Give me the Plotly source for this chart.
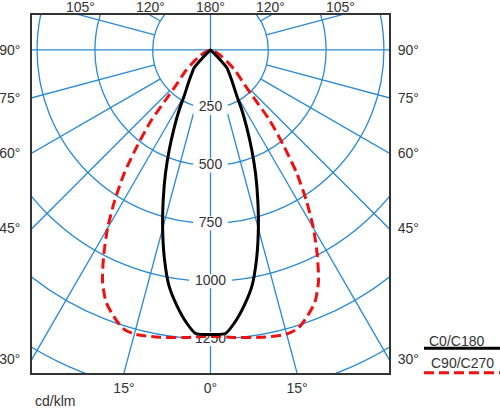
import numpy as np
import plotly.graph_objects as go

# luminous intensity in cd/klm, gamma measured from nadir (0 deg = straight down)
c0_gamma = [0, 3, 5, 7.5, 10, 12.5, 15, 17.5, 20, 22.5, 25, 27.5, 30, 35, 40, 42.5, 45, 47.5, 50]
c0_intensity = [1230, 1228, 1185, 1115, 1035, 922, 800, 680, 570, 465, 372, 295, 225, 160, 120, 105, 45, 12, 0]

c90_gamma = [0, 5, 10, 15, 17.5, 20, 22.5, 25, 27.5, 30, 32.5, 35, 37.5, 40, 42.5, 45, 50, 55, 60, 65, 70, 80, 90]
c90_intensity = [1238, 1248, 1262, 1272, 1262, 1225, 1180, 1105, 1000, 890, 770, 650, 515, 400, 265, 200, 140, 88, 55, 30, 15, 4, 0]

ring_values = [250, 500, 750, 1000, 1250, 1500]
ring_labels = ["250", "500", "750", "1000", "1250"]
spoke_step = 15

bottom_angles = [-15, 0, 15]
bottom_text = ["15°", "0°", "15°"]
side_angles = [30, 45, 60, 75, 90]
side_text = ["30°", "45°", "60°", "75°", "90°"]
top_angles = [-105, -120, 180, 120, 105]
top_text = ["105°", "120°", "180°", "120°", "105°"]

X_EDGE = 772
Y_TOP, Y_BOTTOM = -151, 1397
PX = 0.2312  # pixels per cd/klm
GRID = "#2a8ad4"
TEXT = "#333333"
FONT = "Liberation Sans, Arial, sans-serif"


def closed_curve(gamma, intensity):
    g = np.deg2rad(np.array(gamma, dtype=float))
    r = np.array(intensity, dtype=float)
    x = np.concatenate([-(r * np.sin(g))[::-1], (r * np.sin(g))[1:]])
    y = np.concatenate([(r * np.cos(g))[::-1], (r * np.cos(g))[1:]])
    return x, y


shapes = []
for r in ring_values:
    shapes.append(dict(type="circle", xref="x", yref="y", x0=-r, x1=r, y0=-r, y1=r,
                       line=dict(color=GRID, width=1.3), layer="below"))
for a in range(0, 360, spoke_step):
    t = np.deg2rad(a)
    r0 = 0 if a % 90 == 0 else ring_values[0]
    shapes.append(dict(type="line", xref="x", yref="y",
                       x0=r0 * np.sin(t), y0=r0 * np.cos(t),
                       x1=2500 * np.sin(t), y1=2500 * np.cos(t),
                       line=dict(color=GRID, width=1.3), layer="below"))
for r, lab in zip(ring_values, ring_labels):
    hw = (len(lab) * 8.2 + 10) / 2 / PX
    hh = 7 / PX
    shapes.append(dict(type="rect", xref="x", yref="y", x0=-hw, x1=hw, y0=r - hh, y1=r + hh,
                       fillcolor="white", line=dict(width=0), layer="below"))

# legend drawn by hand: text above the line sample
shapes.append(dict(type="line", xref="paper", yref="paper", x0=1.098, x1=1.32, y0=0.069, y1=0.069,
                   line=dict(color="black", width=3)))
shapes.append(dict(type="line", xref="paper", yref="paper", x0=1.098, x1=1.32, y0=0.001, y1=0.001,
                   line=dict(color="#ee1111", width=3, dash="10px,5px")))

fig = go.Figure()
fig.add_trace(go.Scatter(
    x=[0] * len(ring_labels), y=ring_values[:len(ring_labels)], text=ring_labels,
    mode="text", textfont=dict(size=14, color=TEXT, family=FONT),
    hoverinfo="skip", showlegend=False,
))
x0, y0 = closed_curve(c90_gamma, c90_intensity)
fig.add_trace(go.Scatter(x=x0, y=y0, mode="lines", name="C90/C270",
                         line=dict(color="#ee1111", width=3, dash="10px,5px", shape="spline", smoothing=0.7),
                         showlegend=False))
x1, y1 = closed_curve(c0_gamma, c0_intensity)
fig.add_trace(go.Scatter(x=x1, y=y1, mode="lines", name="C0/C180",
                         line=dict(color="black", width=3, shape="spline", smoothing=0.7),
                         showlegend=False))
fig.add_trace(go.Scatter(x=[None], y=[None], yaxis="y2", showlegend=False, hoverinfo="skip"))

tick_font = dict(size=14, color=TEXT, family=FONT)
bottom_vals = [Y_BOTTOM * np.tan(np.deg2rad(a)) for a in bottom_angles]
side_vals = [X_EDGE * np.cos(np.deg2rad(a)) / np.sin(np.deg2rad(a)) for a in side_angles]
top_vals = [Y_TOP * np.tan(np.deg2rad(a)) for a in top_angles]

common = dict(showgrid=False, zeroline=False, automargin=False, fixedrange=True,
              tickcolor="rgba(0,0,0,0)", tickfont=tick_font, ticks="outside")

annotations = [
    dict(text=t, xref="x", yref="paper", x=v, y=1, yanchor="bottom", yshift=-2,
         showarrow=False, font=tick_font)
    for v, t in zip(top_vals, top_text)
]
annotations += [
    dict(text="C0/C180", xref="paper", yref="paper", x=1.19, y=0.09, showarrow=False,
         xanchor="center", yanchor="middle", font=tick_font),
    dict(text="C90/C270", xref="paper", yref="paper", x=1.207, y=0.028, showarrow=False,
         xanchor="center", yanchor="middle", font=tick_font),
    dict(text="cd/klm", xref="paper", yref="paper", x=0.003, y=-0.078, showarrow=False,
         xanchor="left", yanchor="middle", font=tick_font),
]

fig.update_layout(
    width=500, height=409,
    margin=dict(l=32, r=111, t=15, b=36),
    paper_bgcolor="white", plot_bgcolor="white",
    shapes=shapes,
    annotations=annotations,
    xaxis=dict(range=[-X_EDGE, X_EDGE], tickvals=bottom_vals, ticktext=bottom_text,
               showline=True, mirror=True, linecolor=TEXT, linewidth=1.5, ticklen=1, **common),
    yaxis=dict(range=[Y_BOTTOM, Y_TOP], tickvals=side_vals, ticktext=side_text,
               showline=True, mirror=True, linecolor=TEXT, linewidth=1.5, ticklen=7, **common),
    yaxis2=dict(range=[Y_BOTTOM, Y_TOP], overlaying="y", side="right", anchor="x",
                tickvals=side_vals, ticktext=side_text, showline=False, ticklen=5, **common),
)

# the page's default 8px body margin would shift the whole figure
fig.write_html("out.html", config={"displayModeBar": False},
               post_script="document.body.style.margin = '0';")
